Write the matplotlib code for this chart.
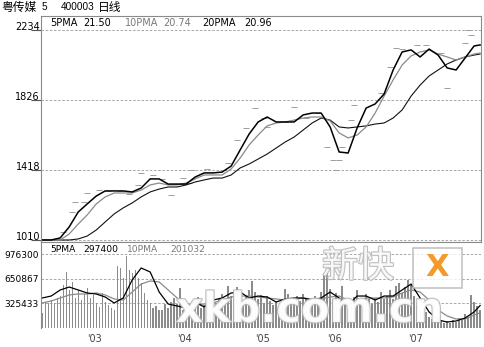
import matplotlib
matplotlib.use("Agg")
import matplotlib.pyplot as plt
import matplotlib.patheffects as pe
from matplotlib.patches import Rectangle
import numpy as np

# bar index of every sampled moving-average point
ma_idx = list(range(0, 145, 3)) + [146]

# price moving averages (chart scale units)
ma5_price = [1010, 1010, 1022, 1086, 1173, 1220, 1266, 1296, 1296, 1296,
             1290, 1313, 1366, 1366, 1336, 1336, 1336, 1377, 1401, 1401,
             1406, 1441, 1535, 1628, 1698, 1727, 1698, 1698, 1698, 1739,
             1750, 1750, 1669, 1523, 1517, 1663, 1779, 1803, 1861, 2001,
             2106, 2118, 2077, 2123, 2088, 2013, 2001, 2071, 2141, 2147]
ma10_price = [1010, 1010, 1010, 1045, 1103, 1156, 1220, 1261, 1284, 1284,
              1284, 1301, 1331, 1342, 1331, 1331, 1342, 1366, 1389, 1389,
              1389, 1424, 1488, 1564, 1622, 1675, 1692, 1698, 1709, 1721,
              1727, 1727, 1704, 1634, 1605, 1622, 1669, 1750, 1849, 1943,
              2030, 2083, 2106, 2118, 2094, 2077, 2059, 2077, 2094, 2100]
ma20_price = [1010, 1010, 1010, 1010, 1016, 1033, 1068, 1115, 1162, 1197,
              1226, 1261, 1290, 1307, 1319, 1319, 1331, 1348, 1360, 1371,
              1371, 1389, 1430, 1453, 1482, 1511, 1546, 1581, 1610, 1651,
              1692, 1721, 1709, 1669, 1663, 1669, 1675, 1686, 1692, 1721,
              1768, 1849, 1913, 1966, 2001, 2036, 2059, 2077, 2088, 2094]

# closing marks
close_idx = [7, 10, 11, 14, 15, 19, 22, 26, 29, 32, 33, 37, 40, 43, 47, 49,
             50, 55, 62, 65, 68, 71, 74, 75, 81, 84, 88, 92, 95, 97, 98, 99,
             100, 103, 104, 113, 116, 118, 120, 125, 128, 133, 135, 141, 142, 143]
close_val = [1057, 1173, 1231, 1231, 1284, 1301, 1296, 1296, 1278, 1331, 1401,
             1389, 1366, 1272, 1371, 1342, 1418, 1424, 1459, 1593, 1663, 1779,
             1721, 1669, 1698, 1785, 1721, 1750, 1552, 1476, 1418, 1476, 1552,
             1709, 1797, 1867, 2018, 2129, 2123, 2147, 2147, 2100, 1896, 2158,
             2234, 2205]

# volume per bar, thousands
volume_k = [198, 344, 331, 370, 331, 397, 423, 569, 741, 503,
            609, 397, 503, 370, 450, 529, 397, 437, 331, 278,
            463, 344, 304, 265, 238, 820, 794, 661, 952, 767,
            728, 767, 661, 595, 463, 370, 331, 265, 291, 238,
            238, 317, 265, 344, 397, 317, 529, 238, 185, 265,
            290, 340, 410, 260, 300, 380, 250, 420, 330, 380,
            450, 360, 560, 420, 380, 540, 470, 350, 420, 500,
            620, 480, 390, 440, 330, 420, 360, 300, 350, 280,
            390, 520, 450, 380, 340, 420, 360, 450, 380, 300,
            350, 420, 330, 480, 700, 740, 520, 380, 460, 330,
            560, 300, 260, 360, 410, 500, 380, 330, 450, 380,
            320, 400, 350, 470, 380, 420, 500, 380, 550, 600,
            460, 540, 640, 580, 420, 300, 250, 180, 210, 150,
            120, 90, 140, 100, 70, 90, 60, 110, 80, 130,
            100, 180, 150, 430, 350, 290, 240]

ma5_vol = [397000, 423000, 503000, 542000, 503000, 463000, 450000, 410000, 331000, 397000,
           635000, 794000, 741000, 476000, 317000, 291000, 265000, 344000, 278000, 370000,
           397000, 463000, 476000, 397000, 423000, 410000, 344000, 384000, 397000, 397000,
           370000, 397000, 476000, 397000, 304000, 423000, 423000, 370000, 423000, 423000,
           503000, 582000, 397000, 212000, 106000, 79000, 93000, 132000, 212000, 297400]
ma10_vol = [331000, 357000, 397000, 437000, 450000, 450000, 463000, 437000, 384000, 370000,
            476000, 582000, 622000, 609000, 503000, 397000, 317000, 304000, 317000, 331000,
            370000, 410000, 423000, 423000, 410000, 397000, 384000, 370000, 384000, 397000,
            384000, 384000, 410000, 423000, 370000, 357000, 397000, 397000, 397000, 410000,
            463000, 503000, 476000, 370000, 238000, 159000, 119000, 119000, 172000, 201032]

price_ticks = [1010, 1418, 1826, 2234]
vol_ticks = [325433, 650867, 976300]
year_pos = [15, 45, 71, 95, 122]
year_labels = ["'03", "'04", "'05", "'06", "'07"]

W, H = 484, 347


def fx(px):
    return px / W


def fy(py):
    return 1 - py / H


fig = plt.figure(figsize=(W / 100, H / 100), dpi=100)
fig.patch.set_facecolor("white")

GRID = dict(color="#9a9a9a", linestyle=(0, (3, 2)), linewidth=0.6)
EDGE = "#8a8a8a"
XLIM = (-0.4, 146.3)
NUM = "DejaVu Sans"

# ---- price panel
ax = fig.add_axes([fx(41), fy(242), fx(481) - fx(41), fy(16) - fy(242)])
ax.set_xlim(*XLIM)
ax.set_ylim(998.3, 2315.7)
for v in price_ticks:
    ax.axhline(v, zorder=0, **GRID)
ax.plot(close_idx, close_val, linestyle="none", marker="_", markersize=4,
        markeredgewidth=0.7, color="#9c9c9c")
ax.plot(ma_idx, ma20_price, color="#111111", lw=0.8)
ax.plot(ma_idx, ma10_price, color="#8a8a8a", lw=0.9)
ax.plot(ma_idx, ma5_price, color="black", lw=1.1)
ax.set_xticks([])
ax.set_yticks(price_ticks)
ax.set_yticklabels([str(v) for v in price_ticks], fontsize=7, family=NUM)
for lbl in ax.get_yticklabels():
    lbl.set_verticalalignment("baseline")
ax.tick_params(axis="y", length=7, width=0.8, color="#555555", pad=-6.3)
for s in ax.spines.values():
    s.set_color(EDGE)
    s.set_linewidth(0.8)

# ---- volume panel
av = fig.add_axes([fx(41), fy(328), fx(481) - fx(41), fy(242) - fy(328)])
av.set_xlim(*XLIM)
av.set_ylim(0, 1137700)
for v in vol_ticks:
    av.axhline(v, zorder=0, **GRID)
volume = np.array(volume_k) * 1000
av.bar(np.arange(len(volume)), volume, width=0.45, color="#8c8c8c", linewidth=0)
av.plot(ma_idx, ma10_vol, color="#8a8a8a", lw=0.9)
av.plot(ma_idx, ma5_vol, color="black", lw=0.9)
av.set_yticks(vol_ticks)
av.set_yticklabels([str(v) for v in vol_ticks], fontsize=6.5, family=NUM)
av.tick_params(axis="y", length=0, pad=1.5)
av.set_xticks(year_pos)
av.set_xticklabels(year_labels, fontsize=7, color="#444444", ha="left")
av.tick_params(axis="x", length=0, pad=4.5)
av.spines["right"].set_visible(False)
av.spines["bottom"].set_visible(False)
av.spines["left"].set_color(EDGE)
av.spines["top"].set_color(EDGE)
av.spines["left"].set_linewidth(0.8)
av.spines["top"].set_linewidth(0.8)

# ---- header texts
cjk = ["Noto Sans CJK SC", "DejaVu Sans"]
fig.text(fx(1), fy(7), "粤传媒", fontsize=8.5, family=cjk, va="center")
fig.text(fx(42), fy(7), "5", fontsize=7.2, family="Liberation Sans", va="center")
fig.text(fx(61), fy(7), "400003", fontsize=7.2, family="Liberation Sans", va="center")
fig.text(fx(98), fy(7), "日线", fontsize=8.5, family=cjk, va="center")

legend_p = [(50, "5PMA", "black"), (83, "21.50", "black"),
            (125, "10PMA", "#7a7a7a"), (163, "20.74", "#7a7a7a"),
            (202, "20PMA", "black"), (244, "20.96", "black")]
for x, t, c in legend_p:
    fig.text(fx(x), fy(23), t, fontsize=7, color=c, va="center", family=NUM)
legend_v = [(50, "5PMA", "black"), (83, "297400", "black"),
            (127, "10PMA", "#7a7a7a"), (170, "201032", "#7a7a7a")]
for x, t, c in legend_v:
    fig.text(fx(x), fy(249), t, fontsize=6.6, color=c, va="center", family=NUM)

# ---- watermark (kept clear of the year labels)
wm = [pe.withStroke(linewidth=1.6, foreground="#b5b5b5")]
fig.text(fx(176), fy(322), "xkb.com.cn", fontsize=30, weight="bold",
         family="DejaVu Sans", color="white", alpha=0.85, va="baseline",
         path_effects=wm, zorder=10)
fig.text(fx(322), fy(267), "新快", fontsize=26, family=cjk, color="white",
         alpha=0.85, va="center", path_effects=wm, zorder=10)
box = Rectangle((fx(413), fy(288)), fx(462) - fx(413), fy(248) - fy(288),
                transform=fig.transFigure, facecolor="white", alpha=0.8,
                edgecolor="#b5b5b5", linewidth=1.2, zorder=10)
fig.patches.append(box)
fig.text(fx(437.5), fy(268), "X", fontsize=22, weight="bold", color="#f39a2b",
         ha="center", va="center", zorder=11)

fig.savefig("out.png", dpi=100)
